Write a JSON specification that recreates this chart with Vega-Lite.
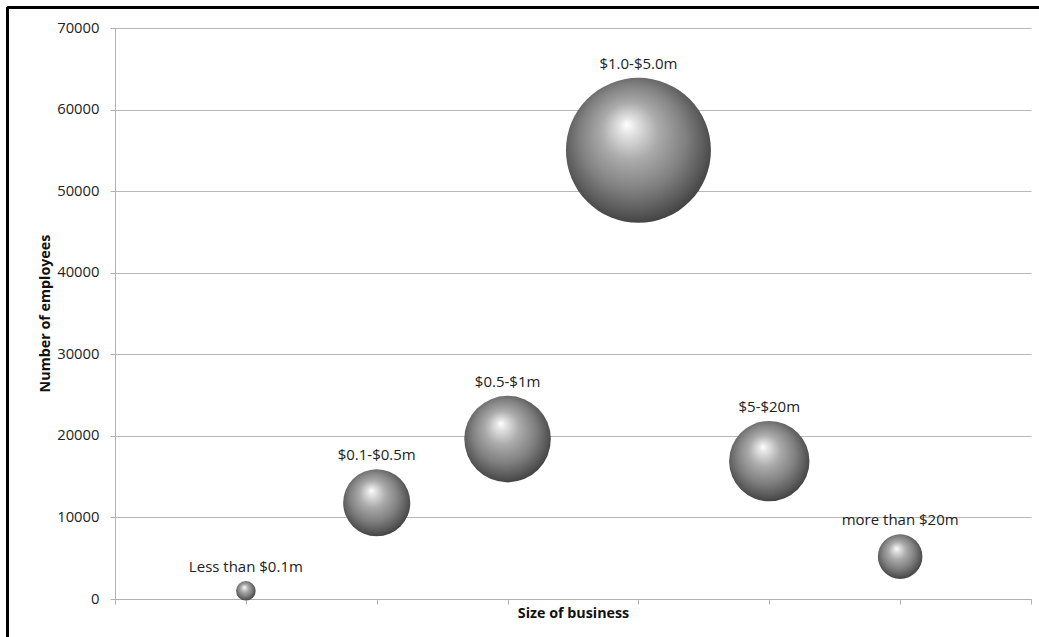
{
  "$schema": "https://vega.github.io/schema/vega-lite/v6.json",
  "width": 916,
  "height": 571,
  "autosize": {"type": "none"},
  "padding": {"left": 115, "top": 28, "right": 8, "bottom": 38},
  "background": "white",
  "config": {
    "view": {"stroke": null},
    "font": "Open Sans",
    "axis": {
      "labelFont": "Open Sans",
      "labelFontSize": 14.8,
      "labelColor": "#222222",
      "titleFont": "Open Sans",
      "titleFontSize": 14.3,
      "titleFontWeight": "bold",
      "titleColor": "#111111",
      "domainColor": "#b0b0b0",
      "tickColor": "#b0b0b0",
      "gridColor": "#b8b8b8",
      "tickSize": 5
    }
  },
  "data": {
    "values": [
      {"business": "Less than $0.1m", "order": 1, "employees": 1000},
      {"business": "$0.1-$0.5m", "order": 2, "employees": 11800},
      {"business": "$0.5-$1m", "order": 3, "employees": 19600},
      {"business": "$1.0-$5.0m", "order": 4, "employees": 55000},
      {"business": "$5-$20m", "order": 5, "employees": 16900},
      {"business": "more than $20m", "order": 6, "employees": 5200}
    ]
  },
  "layer": [
    {
      "mark": {"type": "rule", "color": "black", "strokeWidth": 2.5, "clip": false},
      "encoding": {
        "x": {"datum": -0.82, "type": "quantitative", "scale": {"domain": [0, 7]}},
        "x2": {"datum": 7.5},
        "y": {"datum": 72550, "type": "quantitative"}
      }
    },
    {
      "mark": {"type": "rule", "color": "black", "strokeWidth": 2.5, "clip": false},
      "encoding": {
        "x": {"datum": -0.82, "type": "quantitative"},
        "y": {"datum": 72550, "type": "quantitative"},
        "y2": {"datum": -20000}
      }
    },
    {
      "mark": {
        "type": "circle",
        "opacity": 1,
        "fill": {
          "gradient": "radial",
          "x1": 0.42, "y1": 0.32, "r1": 0,
          "x2": 0.48, "y2": 0.46, "r2": 0.56,
          "stops": [
            {"offset": 0, "color": "#ffffff"},
            {"offset": 0.1, "color": "#e4e4e4"},
            {"offset": 0.35, "color": "#ababab"},
            {"offset": 0.65, "color": "#808080"},
            {"offset": 0.85, "color": "#5c5c5c"},
            {"offset": 1, "color": "#3e3e3e"}
          ]
        }
      },
      "encoding": {
        "x": {
          "field": "order",
          "type": "quantitative",
          "scale": {"domain": [0, 7], "nice": false, "zero": true},
          "axis": {
            "values": [0, 1, 2, 3, 4, 5, 6, 7],
            "labels": false,
            "grid": false,
            "title": "Size of business",
            "titleX": 458,
            "titleY": 7,
            "titleBaseline": "top"
          }
        },
        "y": {
          "field": "employees",
          "type": "quantitative",
          "scale": {"domain": [0, 70000], "nice": false},
          "axis": {
            "values": [0, 10000, 20000, 30000, 40000, 50000, 60000, 70000],
            "format": "d",
            "labelPadding": 11,
            "grid": true,
            "title": "Number of employees",
            "titleX": -70,
            "titleY": 285,
            "titleAngle": -90,
            "titleBaseline": "middle",
            "titleAlign": "center"
          }
        },
        "size": {
          "field": "employees",
          "type": "quantitative",
          "scale": {"type": "linear", "domain": [0, 55000], "range": [0, 21025], "zero": true},
          "legend": null
        }
      }
    },
    {
      "transform": [
        {"calculate": "datum.employees + (sqrt(datum.employees / 55000) * 72.5 + 14) * 70000 / 571", "as": "labelY"}
      ],
      "mark": {"type": "text", "fontSize": 15, "font": "Open Sans", "color": "#222222", "baseline": "middle", "align": "center"},
      "encoding": {
        "x": {"field": "order", "type": "quantitative"},
        "y": {"field": "labelY", "type": "quantitative"},
        "text": {"field": "business"}
      }
    }
  ]
}
